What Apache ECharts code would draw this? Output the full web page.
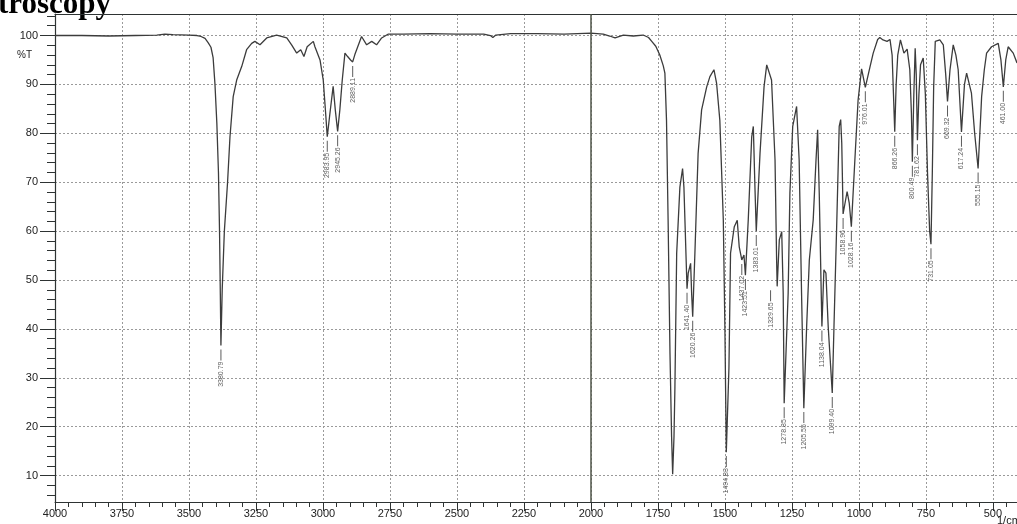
<!DOCTYPE html>
<html>
<head>
<meta charset="utf-8">
<script src="https://cdn.jsdelivr.net/npm/echarts@6/dist/echarts.min.js"></script>
<style>
  html, body { margin: 0; padding: 0; background: #fff; }
  #main { width: 1017px; height: 524px; }
</style>
</head>
<body>
<div id="main"></div>
<script>
// wavenumber (1/cm) and transmittance (%T)
const wavenumber = [
  4000, 3900, 3800, 3700, 3620, 3590, 3560, 3500, 3470, 3455, 3440, 3428, 3418, 3410, 3403,
  3396, 3390, 3386, 3383, 3380.8, 3376, 3368, 3356, 3347, 3335, 3322, 3303, 3285, 3266, 3254,
  3235, 3210, 3173, 3135, 3117, 3098, 3083, 3071, 3059, 3036, 3030, 3011, 2999, 2990, 2983.95,
  2974, 2962, 2954, 2945.26, 2937, 2928, 2918, 2908, 2897, 2889.11, 2881, 2856, 2837, 2818, 2800,
  2781, 2756, 2700, 2600, 2500, 2400, 2375, 2366, 2355, 2300, 2200, 2100, 2050, 2000, 1954,
  1930, 1910, 1879, 1842, 1805, 1785, 1773, 1758, 1743, 1730, 1724, 1718, 1712, 1705, 1699,
  1695, 1690, 1686.6, 1680, 1668, 1658, 1653, 1641.4, 1637, 1628, 1624, 1620.26, 1612, 1600, 1587,
  1568, 1556, 1541, 1531, 1519, 1506, 1500, 1494.83, 1485, 1479, 1465, 1454, 1446.6, 1437.02, 1429,
  1423.51, 1413, 1400, 1394, 1388, 1383.01, 1369, 1354, 1344, 1326, 1313, 1307, 1305, 1297, 1288,
  1282.5, 1278.85, 1264, 1257.5, 1247, 1232.5, 1223, 1214, 1205.55, 1195, 1185, 1170.5, 1160, 1154, 1148,
  1138.04, 1130.6, 1123, 1114.6, 1099.4, 1093, 1083, 1073.5, 1068, 1064, 1058.96, 1044, 1036, 1028.16, 1015,
  1003, 990, 976.01, 959, 946.6, 930, 922, 910, 895, 884, 876, 871, 866.26, 861, 855,
  845, 832, 820, 810, 804, 800.49, 795, 790, 786, 781.62, 776, 770, 760, 752, 744,
  736, 731.05, 726, 721, 715, 698, 685, 676, 669.32, 660, 648, 638, 629.5, 617.24, 606,
  598, 580, 568, 555.15, 545, 542, 532, 523.5, 505, 480, 470, 461, 452, 443, 424, 410
];
const transmittance = [
  100.0, 100.0, 99.9, 100.0, 100.1, 100.3, 100.2, 100.1, 100.0, 99.8, 99.4, 98.5, 97.6, 95.5, 90.0,
  82.0, 72.0, 60.0, 47.0, 36.6, 48.0, 60.0, 70.0, 79.3, 87.5, 90.9, 93.7, 97.1, 98.4, 98.8,
  98.1, 99.5, 100.1, 99.5, 98.1, 96.4, 97.1, 95.7, 97.7, 98.8, 97.7, 95.0, 90.9, 84.1, 79.3,
  84.1, 89.6, 84.8, 80.4, 84.8, 90.9, 96.4, 95.7, 95.0, 94.6, 96.1, 99.8, 98.1, 98.8, 98.1,
  99.5, 100.3, 100.3, 100.4, 100.3, 100.3, 100.0, 99.6, 100.1, 100.4, 100.4, 100.3, 100.4, 100.5, 100.3,
  99.9, 99.5, 100.1, 99.9, 100.1, 99.6, 98.8, 97.8, 96.0, 93.8, 92.3, 82.7, 62.2, 35.0, 18.0,
  10.3, 18.0, 28.0, 55.5, 69.0, 72.8, 69.0, 48.2, 51.4, 53.4, 47.0, 42.5, 55.5, 75.9, 84.8,
  89.5, 91.6, 93.0, 90.2, 82.7, 62.2, 40.0, 14.8, 32.0, 55.5, 60.9, 62.2, 56.8, 54.1, 55.1,
  51.0, 62.2, 79.3, 81.4, 69.0, 60.0, 75.9, 89.5, 94.0, 90.9, 74.6, 54.0, 48.7, 58.2, 59.9,
  47.3, 24.8, 47.3, 67.8, 81.4, 85.5, 74.6, 47.3, 23.8, 40.5, 54.1, 62.3, 74.6, 80.7, 67.8,
  40.5, 52.1, 51.4, 40.5, 26.9, 40.5, 60.9, 81.4, 82.8, 78.0, 63.5, 68.1, 65.7, 60.9, 74.6,
  86.8, 93.2, 89.4, 93.5, 96.4, 99.2, 99.6, 99.1, 98.8, 99.2, 96.0, 88.0, 80.3, 90.0, 96.0,
  99.1, 96.4, 97.2, 93.0, 84.0, 74.2, 88.0, 97.4, 92.0, 78.6, 88.0, 94.0, 95.4, 88.0, 72.0,
  60.0, 57.3, 72.0, 89.5, 98.8, 99.1, 98.1, 92.0, 86.5, 93.0, 98.1, 96.0, 93.0, 80.3, 90.0,
  92.3, 88.2, 80.0, 72.8, 84.0, 87.5, 93.0, 96.4, 97.7, 98.4, 95.0, 89.5, 95.0, 97.7, 96.4, 94.4
];
// labelled peaks
const peakWavenumber = [
  3380.79, 2983.95, 2945.26, 2889.11, 1641.40, 1620.26, 1494.83, 1437.02, 1423.51, 1383.01,
  1329.65, 1278.85, 1205.55, 1138.04, 1099.40, 1058.96, 1028.16, 976.01, 866.26, 800.49,
  781.62, 731.05, 669.32, 617.24, 555.15, 461.00
];
const peakT = [
  36.6, 79.3, 80.4, 94.6, 48.2, 42.5, 14.8, 54.1, 51.0, 60.0,
  48.7, 24.8, 23.8, 40.5, 26.9, 63.5, 60.9, 89.4, 80.3, 74.2,
  78.6, 57.3, 86.5, 80.3, 72.8, 89.5
];
const xTicks = [4000, 3750, 3500, 3250, 3000, 2750, 2500, 2250, 2000, 1750, 1500, 1250, 1000, 750, 500];
const xMinorTicks = [];
for (let v = 4000; v >= 450; v -= 50) xMinorTicks.push(v);
const yTicks = [10, 20, 30, 40, 50, 60, 70, 80, 90, 100];
const yMinorTicks = [];
for (let v = 6; v <= 104; v += 2) yMinorTicks.push(v);

const chart = echarts.init(document.getElementById('main'));
const font = '"Liberation Sans", Arial, sans-serif';
const X_MIN = 410, X_MAX = 4000, Y_MIN = 4.6, Y_MAX = 104.4;

const gridLine = { show: true, lineStyle: { type: [2, 2], color: '#9a9a9a', width: 1 } };
const axisColor = '#2e3333';

const option = {
  backgroundColor: '#ffffff',
  animation: false,
  grid: { left: 55, right: 0, top: 14, bottom: 22 },
  xAxis: [
    {
      type: 'value', min: X_MIN, max: X_MAX, inverse: true, position: 'bottom',
      axisLine: { show: true, onZero: false, lineStyle: { color: axisColor, width: 1 } },
      axisTick: { show: true, customValues: xTicks, length: 9, lineStyle: { color: axisColor } },
      axisLabel: { customValues: xTicks, formatter: (v) => String(v), margin: 6, fontSize: 11, color: '#222', fontFamily: font },
      splitLine: gridLine
    },
    {
      type: 'value', min: X_MIN, max: X_MAX, inverse: true, position: 'bottom',
      axisLine: { show: false, onZero: false },
      axisTick: { show: true, customValues: xMinorTicks, length: 5, lineStyle: { color: axisColor } },
      axisLabel: { show: false },
      splitLine: { show: false }
    },
    {
      type: 'value', min: X_MIN, max: X_MAX, inverse: true, position: 'top',
      axisLine: { show: true, onZero: false, lineStyle: { color: axisColor, width: 1.2 } },
      axisTick: { show: false }, axisLabel: { show: false }, splitLine: { show: false }
    }
  ],
  yAxis: [
    {
      type: 'value', min: Y_MIN, max: Y_MAX, position: 'left',
      axisLine: { show: true, onZero: false, lineStyle: { color: axisColor, width: 1.2 } },
      axisTick: { show: true, customValues: yTicks, length: 15, lineStyle: { color: axisColor } },
      axisLabel: { customValues: yTicks, margin: 17, fontSize: 11, color: '#222', fontFamily: font },
      splitLine: gridLine
    },
    {
      type: 'value', min: Y_MIN, max: Y_MAX, position: 'left',
      axisLine: { show: false, onZero: false },
      axisTick: { show: true, customValues: yMinorTicks, length: 8, lineStyle: { color: axisColor } },
      axisLabel: { show: false }, splitLine: { show: false }
    }
  ],
  graphic: [
    { type: 'text', left: -2, top: -11, style: { text: 'troscopy', font: 'bold 31px "Liberation Serif", serif', fill: '#000' } },
    { type: 'text', left: 17, top: 50, style: { text: '%T', font: '10px ' + font, fill: '#222' } },
    { type: 'text', left: 997, top: 515, style: { text: '1/cm', font: '11px ' + font, fill: '#222' } }
  ],
  series: [
    {
      name: 'spectrum',
      type: 'line',
      data: wavenumber.map((w, i) => [w, transmittance[i]]),
      showSymbol: false,
      lineStyle: { color: '#3c3c3c', width: 1.3 },
      z: 4,
      markLine: {
        silent: true,
        symbol: ['none', 'none'],
        label: { show: false },
        lineStyle: { type: 'solid', color: '#4f5448', width: 1.5 },
        data: [{ xAxis: 2000 }]
      }
    },
    {
      name: 'peaks',
      type: 'scatter',
      data: peakWavenumber.map((w, i) => [w, peakT[i]]),
      symbol: 'rect',
      symbolSize: [1, 11],
      symbolOffset: [0, 9.5],
      itemStyle: { color: '#333' },
      silent: true,
      z: 5,
      label: {
        show: true,
        formatter: (p) => p.value[0].toFixed(2),
        position: 'bottom',
        distance: 1,
        rotate: 90,
        align: 'right',
        verticalAlign: 'middle',
        fontSize: 7,
        color: '#333',
        fontFamily: font
      }
    }
  ]
};
chart.setOption(option);
</script>
</body>
</html>
